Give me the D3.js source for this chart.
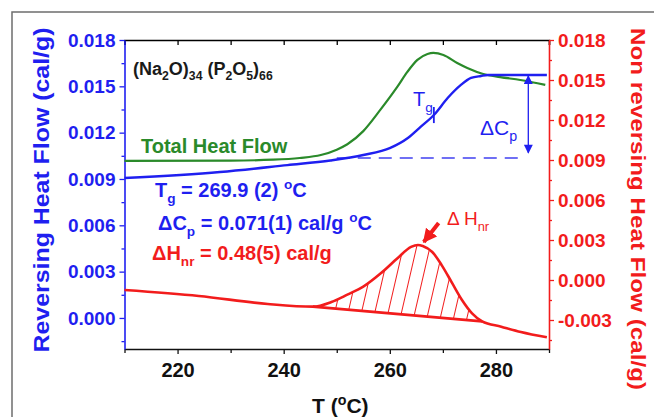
<!DOCTYPE html>
<html>
<head>
<meta charset="utf-8">
<script src="https://cdn.jsdelivr.net/npm/d3@7"></script>
<style>
body { margin: 0; background: #fff; }
svg { display: block; font-family: "Liberation Sans", Arial, sans-serif; }
</style>
</head>
<body>
<svg id="chart" width="654" height="417"></svg>
<script>
// reversing heat flow (blue, left axis)
let revT  = [210, 228, 240.7, 248.8, 255, 260.1, 263.4, 265.8, 268.3, 270.9, 273.4, 275.3, 277.2, 278.5, 289.6];
let revHF = [0.00906, 0.00945, 0.0099, 0.0102, 0.01055, 0.01101, 0.01165, 0.01237, 0.01314, 0.01424, 0.01509, 0.01554, 0.01567, 0.01573, 0.01573];

// total heat flow (green, left axis)
let totT  = [210, 230, 238, 243, 247, 250, 252, 255, 258.2, 261.4, 263.3, 265.2, 267.1, 268.2, 270.1, 272.7, 274.6, 277.6, 280.8, 284.6, 289.3];
let totHF = [0.01017, 0.01019, 0.01025, 0.01036, 0.01055, 0.0109, 0.01125, 0.0121, 0.01347, 0.01496, 0.01593, 0.01671, 0.01709, 0.01716, 0.01703, 0.01651, 0.01619, 0.0158, 0.0156, 0.01541, 0.01509];

// non reversing heat flow (red, right axis)
let nrT  = [210, 224, 237, 245.5, 249, 252, 255, 258.3, 261.5, 264, 265.3, 266.2, 268, 269.8, 271.7, 273.6, 275.5, 277.4, 281, 284.7, 289.6];
let nrHF = [-0.00075, -0.0012, -0.0018, -0.002, -0.00165, -0.0011, -0.0005, 0.0005, 0.00165, 0.00248, 0.00263, 0.00255, 0.0021, 0.0011, -0.0002, -0.0015, -0.0025, -0.0031, -0.0035, -0.0039, -0.0043];

// straight baseline under the non reversing peak
let baseT  = [245.5, 277.4];
let baseHF = [-0.002, -0.0031];

// ticks
let xMajor = [220, 240, 260, 280];
let xMinor = [210, 230, 250, 270, 290];
let leftMajor  = [0, 0.003, 0.006, 0.009, 0.012, 0.015, 0.018];
let leftMinor  = [-0.0015, 0.0015, 0.0045, 0.0075, 0.0105, 0.0135, 0.0165];
let rightMajor = [-0.003, 0, 0.003, 0.006, 0.009, 0.012, 0.015, 0.018];
let rightMinor = [-0.0045, -0.0015, 0.0015, 0.0045, 0.0075, 0.0105, 0.0135, 0.0165];

// annotation values
let tg = 268.3, tgMark = [0.01366, 0.01262];
let cpT = 286.1, cpRange = [0.01568, 0.0107];
let dashLevel = 0.01036, dashT = [250, 284.3];
let hnrArrow = [[269.2, 0.00428], [266.4, 0.00285]];

let BLUE = "#1f1ff0", RED = "#f21c1c", GREEN = "#2a8a2a";

let svg = d3.select("#chart");
let plot = {left: 124.5, right: 549, top: 40, bottom: 349};

let x  = d3.scaleLinear().domain([210, 290]).range([plot.left, plot.right]);
let yL = d3.scaleLinear().domain([-0.00201, 0.018]).range([plot.bottom, plot.top]);
let yR = d3.scaleLinear().domain([-0.005175, 0.018]).range([plot.bottom, plot.top]);

let fmt = d => d3.format(".3f")(d).replace("\u2212", "-");

// outer frame
svg.append("rect").attr("x", 12).attr("y", 12).attr("width", 700).attr("height", 500)
	.attr("fill", "none").attr("stroke", "#6e6e6e").attr("stroke-width", 1.5);

let defs = svg.append("defs");
defs.append("pattern").attr("id", "hatch").attr("patternUnits", "userSpaceOnUse")
	.attr("width", 13).attr("height", 13).attr("patternTransform", "rotate(13)")
	.append("line").attr("x1", 6.5).attr("x2", 6.5).attr("y1", 0).attr("y2", 13)
	.attr("stroke", RED).attr("stroke-width", 1);

function arrowMarker(id, color, w, h) {
	defs.append("marker").attr("id", id).attr("viewBox", "0 0 10 10")
		.attr("refX", 9).attr("refY", 5).attr("markerUnits", "userSpaceOnUse")
		.attr("markerWidth", w).attr("markerHeight", h).attr("orient", "auto-start-reverse")
		.append("path").attr("d", "M0,0 L10,5 L0,10 Z").attr("fill", color);
}
arrowMarker("cpArrow", BLUE, 10, 9);
arrowMarker("hnrArrow", RED, 14, 16);

// hatched area between peak and baseline
let base = d3.scaleLinear().domain(baseT).range(baseHF);
let peak = nrT.map((t, i) => ({t: t, v: nrHF[i]})).filter(d => d.t >= baseT[0] && d.t <= baseT[1]);
svg.append("path").datum(peak)
	.attr("d", d3.area().x(d => x(d.t)).y0(d => yR(base(d.t))).y1(d => yR(d.v)).curve(d3.curveMonotoneX))
	.attr("fill", "url(#hatch)");

// axes
function styleAxis(g, color, size) {
	g.select(".domain").attr("stroke", color).attr("stroke-width", 1.6);
	g.selectAll(".tick line").attr("stroke", color).attr("stroke-width", 1.3);
	g.selectAll(".tick text").attr("fill", color).attr("font-size", size).attr("font-weight", "bold");
}

let gTop = svg.append("g").attr("transform", `translate(0,${plot.top})`)
	.call(d3.axisTop(x).tickValues(xMajor.concat(xMinor)).tickSize(-5).tickFormat(""));
styleAxis(gTop, "#000", 19);

let gBot = svg.append("g").attr("transform", `translate(0,${plot.bottom})`)
	.call(d3.axisBottom(x).tickValues(xMajor).tickSize(5).tickSizeOuter(0).tickPadding(9));
styleAxis(gBot, "#111", 20);
svg.append("g").attr("transform", `translate(0,${plot.bottom})`)
	.call(d3.axisBottom(x).tickValues(xMinor).tickSize(4).tickFormat(""))
	.call(g => { g.select(".domain").remove(); g.selectAll("line").attr("stroke", "#111").attr("stroke-width", 1.3); });

let gLeft = svg.append("g").attr("transform", `translate(${plot.left},0)`)
	.call(d3.axisLeft(yL).tickValues(leftMajor).tickSize(5).tickSizeOuter(0).tickPadding(4).tickFormat(fmt));
styleAxis(gLeft, BLUE, 19);
svg.append("g").attr("transform", `translate(${plot.left},0)`)
	.call(d3.axisLeft(yL).tickValues(leftMinor).tickSize(3).tickFormat(""))
	.call(g => { g.select(".domain").remove(); g.selectAll("line").attr("stroke", BLUE).attr("stroke-width", 1.3); });

let gRight = svg.append("g").attr("transform", `translate(${plot.right},0)`)
	.call(d3.axisRight(yR).tickValues(rightMajor).tickSize(5).tickSizeOuter(0).tickPadding(4).tickFormat(fmt));
styleAxis(gRight, RED, 19);
svg.append("g").attr("transform", `translate(${plot.right},0)`)
	.call(d3.axisRight(yR).tickValues(rightMinor).tickSize(3).tickFormat(""))
	.call(g => { g.select(".domain").remove(); g.selectAll("line").attr("stroke", RED).attr("stroke-width", 1.3); });

// curves
function curve(ts, vs, y, color, w) {
	svg.append("path").datum(ts.map((t, i) => [t, vs[i]]))
		.attr("d", d3.line().x(d => x(d[0])).y(d => y(d[1])).curve(d3.curveMonotoneX))
		.attr("fill", "none").attr("stroke", color).attr("stroke-width", w);
}
curve(nrT, nrHF, yR, RED, 2.6);
curve(baseT, baseHF, yR, RED, 2.6);
curve(totT, totHF, yL, GREEN, 2.2);
curve(revT, revHF, yL, BLUE, 2.4);

// dashed level, delta Cp arrow, Tg mark
svg.append("line").attr("x1", x(dashT[0])).attr("x2", x(dashT[1])).attr("y1", yL(dashLevel)).attr("y2", yL(dashLevel))
	.attr("stroke", BLUE).attr("stroke-width", 1.5).attr("stroke-dasharray", "13,8").attr("opacity", 0.85);
svg.append("line").attr("x1", x(cpT)).attr("x2", x(cpT)).attr("y1", yL(cpRange[0])).attr("y2", yL(cpRange[1]))
	.attr("stroke", BLUE).attr("stroke-width", 1.3)
	.attr("marker-start", "url(#cpArrow)").attr("marker-end", "url(#cpArrow)");
svg.append("line").attr("x1", x(tg)).attr("x2", x(tg)).attr("y1", yL(tgMark[0])).attr("y2", yL(tgMark[1]))
	.attr("stroke", BLUE).attr("stroke-width", 1.8);
svg.append("line")
	.attr("x1", x(hnrArrow[0][0])).attr("y1", yR(hnrArrow[0][1]))
	.attr("x2", x(hnrArrow[1][0])).attr("y2", yR(hnrArrow[1][1]))
	.attr("stroke", RED).attr("stroke-width", 4).attr("marker-end", "url(#hnrArrow)");

// rich text: parts are [text, "sub"|"sup"|undefined]
function rich(px, py, parts, size, color, weight) {
	let t = svg.append("text").attr("x", px).attr("y", py).attr("font-size", size)
		.attr("fill", color).attr("font-weight", weight || "bold");
	let shift = 0;
	parts.forEach(p => {
		let s = t.append("tspan").text(p[0]);
		let want = p[1] === "sub" ? size * 0.3 : p[1] === "sup" ? -size * 0.4 : 0;
		s.attr("dy", want - shift);
		if (p[1]) s.attr("font-size", size * 0.68);
		shift = want;
	});
	return t;
}

rich(133, 75, [["(Na"], ["2", "sub"], ["O)"], ["34", "sub"], [" (P"], ["2", "sub"], ["O"], ["5", "sub"], [")"], ["66", "sub"]], 18, "#1a1a1a");
rich(141, 153, [["Total Heat Flow"]], 20, GREEN);
rich(155, 197, [["T"], ["g", "sub"], [" = 269.9  (2) "], ["o", "sup"], ["C"]], 20, BLUE);
rich(158, 230, [["\u0394C"], ["p", "sub"], [" = 0.071(1) cal/g "], ["o", "sup"], ["C"]], 20, BLUE);
rich(152, 260, [["\u0394H"], ["nr", "sub"], [" = 0.48(5) cal/g"]], 20, RED);
rich(413, 106, [["T"], ["g", "sub"]], 20, BLUE, "normal");
rich(480, 135, [["\u0394C"], ["p", "sub"]], 21, BLUE, "normal");
rich(447, 225, [["\u0394 H"], ["nr", "sub"]], 19, RED, "normal");

// axis titles
svg.append("text").attr("transform", "translate(49,190) rotate(-90)").attr("text-anchor", "middle")
	.attr("font-size", 22).attr("font-weight", "bold").attr("fill", BLUE)
	.attr("textLength", 325).attr("lengthAdjust", "spacingAndGlyphs")
	.text("Reversing Heat Flow (cal/g)");
svg.append("text").attr("transform", "translate(631,209) rotate(90)").attr("text-anchor", "middle")
	.attr("font-size", 21).attr("font-weight", "bold").attr("fill", RED)
	.attr("textLength", 362).attr("lengthAdjust", "spacingAndGlyphs")
	.text("Non reversing Heat Flow (cal/g)");
rich(312, 413, [["T ("], ["o", "sup"], ["C)"]], 21, "#111");
</script>
</body>
</html>
